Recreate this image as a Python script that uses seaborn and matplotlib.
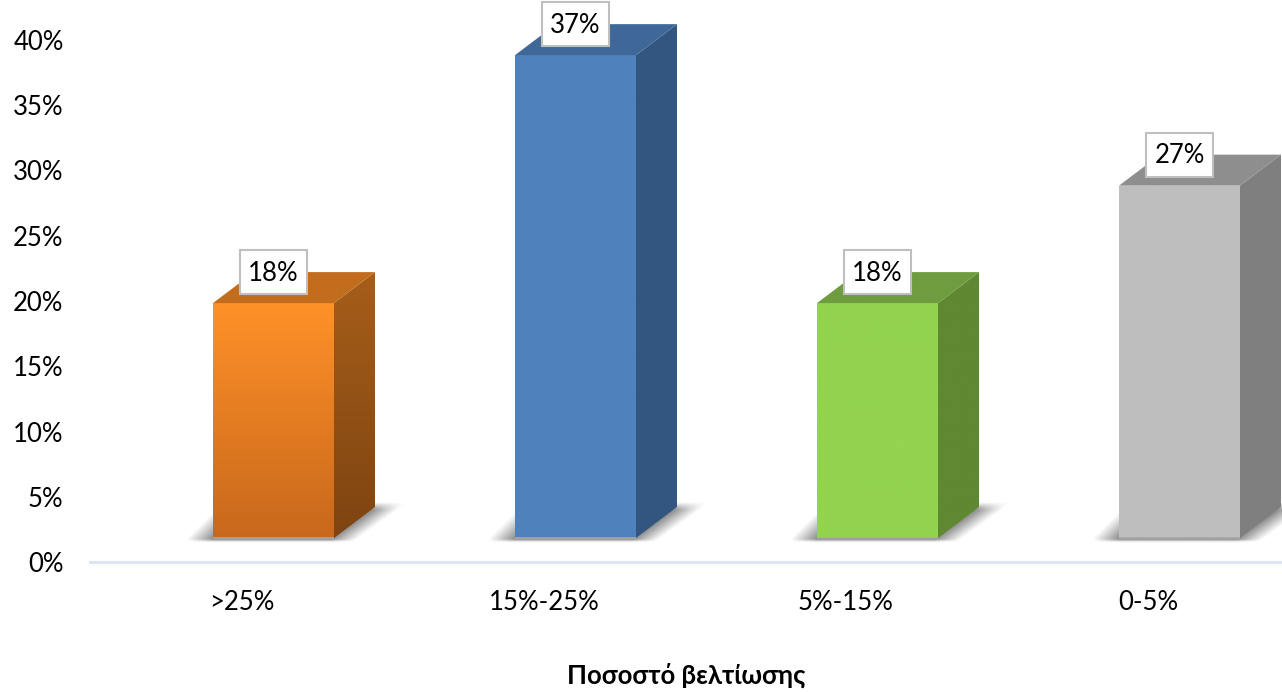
import numpy as np
import pandas as pd
import seaborn as sns
import matplotlib.pyplot as plt
from matplotlib.colors import LinearSegmentedColormap
from matplotlib.patches import Polygon, Rectangle

# values
categories = [">25%", "15%-25%", "5%-15%", "0-5%"]
values = [18, 37, 18, 27]
value_labels = ["18%", "37%", "18%", "27%"]
y_ticks = [0, 5, 10, 15, 20, 25, 30, 35, 40]
y_labels = ["0%", "5%", "10%", "15%", "20%", "25%", "30%", "35%", "40%"]
x_title = "Ποσοστό βελτίωσης"

# colours per bar: front top/bottom, side top/bottom, top face
front_top = ["#FF9128", "#4F81BD", "#92D350", "#BEBEBE"]
front_bottom = ["#C8681C", "#4F81BD", "#92D350", "#BEBEBE"]
side_top = ["#A65E1A", "#335680", "#5F8833", "#7F7F7F"]
side_bottom = ["#7E4411", "#335680", "#5F8833", "#7F7F7F"]
top_face = ["#C26D1E", "#3F6898", "#6F9C3E", "#8E8E8E"]

# layout of the 3D look
PX_X = 1 / 302      # data units per pixel, x
PX_Y = 1 / 13.05    # data units per pixel, y
base = 24 * PX_Y    # bars float a little above the axis
depth_x = 41 * PX_X
depth_y = 31 * PX_Y
FONT = 18.5

sns.set_theme(style="white")
plt.rcParams["font.family"] = ["Lato", "Noto Sans", "DejaVu Sans"]

fig = plt.figure(figsize=(12.82, 6.92), dpi=100)
ax = fig.add_axes([90 / 1282, 1 - 562 / 692, 1192 / 1282, 562 / 692])

df = pd.DataFrame({"category": categories, "value": values})
sns.barplot(data=df, x="category", y="value", hue="category", palette=front_top,
            width=121 / 302, bottom=base, legend=False, errorbar=None,
            linewidth=0, ax=ax)


def gradient(patch, c_top, c_bottom, extent, zorder):
    cmap = LinearSegmentedColormap.from_list("g", [c_top, c_bottom])
    im = ax.imshow(np.linspace(0, 1, 256)[:, None], cmap=cmap, extent=extent,
                   aspect="auto", origin="upper", zorder=zorder)
    im.set_clip_path(patch)


def soft_shadow(x0, x1, y0):
    # blurred sheared footprint behind the bar
    w, h = 260, 60
    x_left = x0 - 30 * PX_X
    x_right = x1 + 70 * PX_X
    y_low = y0 - 5 * PX_Y
    y_high = y0 + 38 * PX_Y
    px = np.linspace(x_left, x_right, w)
    py = np.linspace(y_high, y_low, h)
    xx, yy = np.meshgrid(px, py)
    up = (yy - y0) / PX_Y
    left = np.clip(((xx - x0) / PX_X + 26 - np.clip(up, 0, None)) / 26, 0, 1)
    right = np.clip(((x1 - xx) / PX_X + up * 1.37 + 25) / 25, 0, 1)
    top = np.clip((36 - up) / 8, 0, 1)
    bottom = np.clip((up + 4.5) / 3, 0, 1)
    rgba = np.zeros((h, w, 4))
    rgba[..., :3] = 0.3
    rgba[..., 3] = left * right * top * bottom * 0.62
    ax.imshow(rgba, extent=(x_left, x_right, y_low, y_high), aspect="auto",
              origin="upper", zorder=0.5, interpolation="bilinear")


bars = list(ax.patches)
for i, bar in enumerate(bars):
    x0 = bar.get_x()
    x1 = x0 + bar.get_width()
    y0 = bar.get_y()
    y1 = y0 + bar.get_height()
    bar.set_zorder(2)

    soft_shadow(x0, x1, y0)

    # front face
    front = Rectangle((x0, y0), x1 - x0, y1 - y0, fc="none", ec="none", transform=ax.transData)
    ax.add_patch(front)
    gradient(front, front_top[i], front_bottom[i], (x0, x1, y0, y1), 2.1)
    ax.plot([x0, x1], [y0, y0], color="#A8A8A8", lw=1.2, zorder=2.2, solid_capstyle="butt")

    # side face
    side = Polygon([(x1, y0), (x1 + depth_x, y0 + depth_y), (x1 + depth_x, y1 + depth_y), (x1, y1)],
                   closed=True, fc="none", ec="none")
    ax.add_patch(side)
    gradient(side, side_top[i], side_bottom[i], (x1, x1 + depth_x, y0, y1 + depth_y), 2.1)

    # top face
    ax.add_patch(Polygon([(x0, y1), (x1, y1), (x1 + depth_x, y1 + depth_y), (x0 + depth_x, y1 + depth_y)],
                         closed=True, fc=top_face[i], ec="none", zorder=2.1))

    # value label box, centred on the back edge of the top face
    cx = (x0 + x1) / 2
    cy = y1 + depth_y
    ax.add_patch(Rectangle((cx - 33.5 * PX_X, cy - 22 * PX_Y), 67 * PX_X, 44 * PX_Y,
                           fc="white", ec="#BFBFBF", lw=1.5, zorder=3, clip_on=False))
    ax.text(cx, cy - 1 * PX_Y, value_labels[i], ha="center", va="center",
            fontsize=FONT, color="black", zorder=4, clip_on=False)

# tick labels sit left of the bars in the original
tick_shift = 31.5 * PX_X
ax.set_xticks(np.arange(len(categories)) - tick_shift)
ax.set_xticklabels(categories, fontsize=FONT, color="black")
ax.set_yticks(y_ticks)
ax.set_yticklabels(y_labels, fontsize=FONT, color="black")
ax.tick_params(axis="x", length=0, pad=20)
ax.tick_params(axis="y", length=0, pad=19)

ax.set_xlim((90 - 273.5) * PX_X, (1282 - 273.5) * PX_X)
ax.set_ylim(0, 562 * PX_Y)
ax.set_ylabel("")
ax.set_xlabel(x_title, fontsize=FONT, fontweight="bold", color="black")
ax.xaxis.set_label_coords(0.5, -113 / 562, transform=ax.transAxes)
ax.xaxis.label.set_verticalalignment("center")

sns.despine(ax=ax, left=True, top=True, right=True)
ax.spines["bottom"].set_color("#DAE3F3")
ax.spines["bottom"].set_linewidth(2)
ax.grid(False)

fig.savefig("out.png", dpi=100)
